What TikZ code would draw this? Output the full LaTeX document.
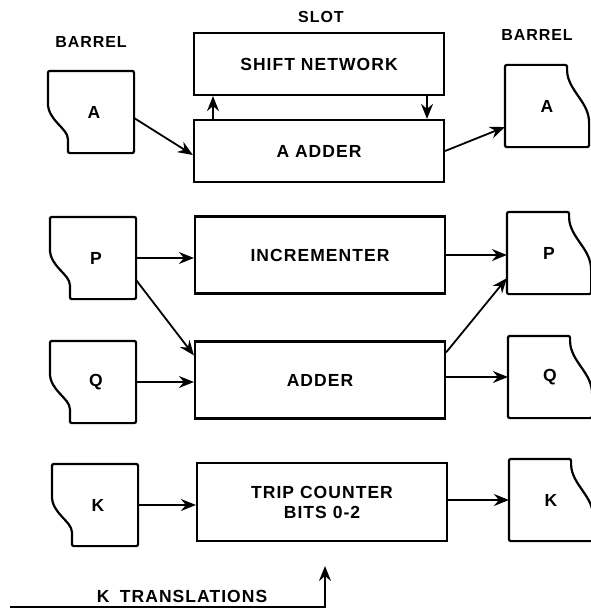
\documentclass[tikz,border=0pt]{standalone}
\usepackage{fontspec}
\setmainfont[LetterSpace=6]{Liberation Sans}
\usetikzlibrary{arrows.meta}

\newcommand{\leftbarrel}[1]{%
  \draw[rounded corners=2pt] ([xshift=20pt]#1.south west) -- (#1.south east) -- (#1.north east)
    -- (#1.north west) -- ([yshift=-30pt]#1.north west)
    .. controls ([yshift=-50pt]#1.north west) and ([xshift=20pt,yshift=25pt]#1.south west)
    .. ([xshift=20pt,yshift=12pt]#1.south west) -- cycle;}
\newcommand{\rightbarrel}[1]{%
  \draw[rounded corners=2pt] (#1.north west) -- ([xshift=-22pt]#1.north east)
    -- ([xshift=-22pt,yshift=-8pt]#1.north east)
    .. controls ([xshift=-18pt,yshift=-28pt]#1.north east) and ([yshift=-38pt]#1.north east)
    .. ([yshift=-60pt]#1.north east) -- (#1.south east) -- (#1.south west) -- cycle;}

\begin{document}
\begin{tikzpicture}[x=1pt,y=-1pt,line width=2.2pt,
  font=\fontsize{17.5}{20}\selectfont\bfseries,
  head/.style={font=\fontsize{16}{18}\selectfont\bfseries},
  block/.style={draw,minimum width=250pt,minimum height=62pt,inner sep=0pt},
  tall/.style={block,minimum height=77pt},
  barrel/.style={minimum width=84pt,minimum height=80pt,inner sep=0pt},
  rbarrel/.style={barrel,minimum width=82pt},
  conn/.style={-{Stealth[length=15pt,width=12pt,inset=5pt]},line width=1.8pt}]
  \useasboundingbox (0,0) rectangle (590,610);
  % headings
  \node[head] (lhead) at (91,42) {BARREL};
  \node[head] (slot) at (321,17) {SLOT};
  \node[head] (rhead) at (537,35) {BARREL};
  % slot
  \node[block] (shift) at (319,64) {SHIFT NETWORK};
  \node[block] (aadd) at (319,151) {A ADDER};
  \node[tall] (inc) at (320,255) {INCREMENTER};
  \node[tall] (add) at (320,380) {ADDER};
  \node[tall,minimum height=78pt,align=center] (trip) at (322,502) {TRIP COUNTER\\BITS 0-2};
  % barrels
  \node[barrel] (la) at (91,112) {\hspace{6pt}A};
  \node[barrel] (lp) at (93,258) {\hspace{6pt}P};
  \node[barrel] (lq) at (93,382) {\hspace{6pt}Q};
  \node[barrel] (lk) at (95,505) {\hspace{6pt}K};
  \node[rbarrel] (ra) at (547,106) {A\hspace{8pt}};
  \node[rbarrel] (rp) at (549,253) {P\hspace{8pt}};
  \node[rbarrel] (rq) at (550,377) {Q\hspace{8pt}};
  \node[rbarrel] (rk) at (551,500) {K\hspace{8pt}};
  \foreach \b in {la,lp,lq,lk} \leftbarrel{\b};
  \foreach \b in {ra,rp,rq,rk} \rightbarrel{\b};
  % connections
  \draw[conn] ([yshift=-6pt]la.east) -- ([yshift=-4pt]aadd.west);
  \draw[conn] (aadd.east) -- ([yshift=-21pt]ra.west);
  \draw[conn] ([xshift=-106pt]aadd.north) -- ([xshift=-106pt]shift.south);
  \draw[conn] ([xshift=108pt]shift.south) -- ([xshift=108pt]aadd.north);
  \draw[conn] (lp.east) -- (lp.east -| inc.west);
  \draw[conn] ([yshift=-22pt]lp.east) -- ([yshift=-15pt]add.north west);
  \draw[conn] (inc.east) -- (inc.east -| rp.west);
  \draw[conn] ([yshift=-12pt]add.north east) -- ([yshift=16pt]rp.south west);
  \draw[conn] (lq.east) -- (lq.east -| add.west);
  \draw[conn] (rq.west -| add.east) -- (rq.west);
  \draw[conn] (lk.east) -- (lk.east -| trip.west);
  \draw[conn] (rk.west -| trip.east) -- (rk.west);
  % k translations
  \coordinate (kl) at (10,607);
  \coordinate (kc) at (325,607);
  \coordinate (kt) at (325,566);
  \draw[conn] (kl) -- (kc) -- (kt);
  \node (ktrans) at (182,596) {K\hspace{0.6em}TRANSLATIONS};
\end{tikzpicture}
\end{document}
